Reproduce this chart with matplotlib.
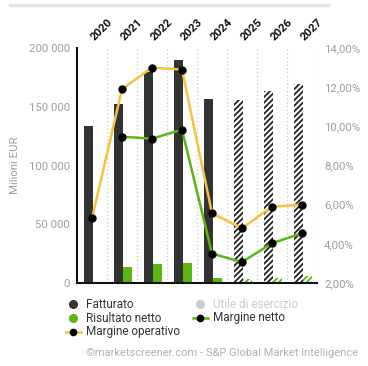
import matplotlib
matplotlib.use("Agg")
import matplotlib.pyplot as plt
from matplotlib.lines import Line2D
import numpy as np

plt.rcParams['font.family'] = ['Roboto', 'DejaVu Sans']
plt.rcParams['hatch.linewidth'] = 1.3

years = ['2020', '2021', '2022', '2023', '2024', '2025', '2026', '2027']
fatturato = [133600, 152000, 179500, 190000, 156600, 155700, 163000, 169000]
risultato_netto = [0, 13600, 16000, 17000, 4500, 3000, 4500, 6000]
margine_operativo = [5.3, 11.9, 13.0, 12.9, 5.56, 4.8, 5.9, 6.0]
margine_netto = [np.nan, 9.47, 9.37, 9.83, 3.5, 3.07, 4.03, 4.54]
forecast = [False, False, False, False, False, True, True, True]

DARK = '#333333'
GREEN = '#5db512'
YELLOW = '#f5c13e'
GRAY = '#9e9e9e'

W, H = 368, 366
fig = plt.figure(figsize=(W / 100, H / 100), dpi=100)
ax = fig.add_axes([77 / W, 1 - 283 / H, 240 / W, 235 / H])
ax2 = ax.twinx()

x = np.arange(len(years))
bw = 0.3
for i in x:
    if forecast[i]:
        ax.bar(i - 0.12, fatturato[i], bw, facecolor='white', edgecolor='#222222',
               hatch='//////', linewidth=0, zorder=2)
        ax.bar(i + 0.17, risultato_netto[i], bw, facecolor='white', edgecolor=GREEN,
               hatch='//////', linewidth=0, zorder=2)
    else:
        ax.bar(i - 0.12, fatturato[i], bw, color=DARK, linewidth=0, zorder=2)
        ax.bar(i + 0.17, risultato_netto[i], bw, color=GREEN, linewidth=0, zorder=2)

for b in np.arange(0.5, len(years), 1.0):
    ax.axvline(b, color='#c8c8c8', lw=0.9, ls=(0, (1, 2)), zorder=1)

ax.set_xlim(-0.5, len(years) - 0.5)
ax.set_ylim(0, 200000)
ax.set_yticks(range(0, 200001, 50000))
ax.set_yticklabels(['0' if v == 0 else f'{v // 1000} 000' for v in range(0, 200001, 50000)])
ax.set_xticks([])
ax.tick_params(axis='y', length=0, pad=5, labelsize=8.2, labelcolor=GRAY)
ax.set_ylabel('Milioni EUR', color=GRAY, fontsize=8.2, labelpad=6)
for s in ['top', 'right']:
    ax.spines[s].set_visible(False)
ax.spines['left'].set_linewidth(1.5)
ax.spines['bottom'].set_linewidth(1.5)
ax.spines['left'].set_color('#111111')
ax.spines['bottom'].set_color('#111111')

ax2.plot(x, margine_operativo, color=YELLOW, lw=1.8, zorder=3)
ax2.plot(x, margine_operativo, 'o', color='black', ms=5, zorder=4)
ax2.plot(x, margine_netto, color=GREEN, lw=1.8, zorder=3)
ax2.plot(x, margine_netto, 'o', color='black', ms=5, zorder=4)
ax2.set_ylim(2, 14)
ax2.set_yticks(range(2, 15, 2))
ax2.set_yticklabels([f'{v},00%' for v in range(2, 15, 2)])
ax2.tick_params(axis='y', length=0, pad=5, labelsize=8.2, labelcolor=GRAY)
for s in ax2.spines.values():
    s.set_visible(False)

for i, yr in enumerate(years):
    ax.annotate(yr, xy=(i, 1), xycoords=('data', 'axes fraction'),
                xytext=(2, 5), textcoords='offset points', rotation=45,
                ha='left', va='baseline', rotation_mode='anchor',
                fontsize=8.2, fontweight='bold', color='#111111')

# top border line
fig.add_artist(Line2D([10 / W, 328 / W], [1 - 5 / H, 1 - 5 / H], color='#e4e4e4', lw=2.5))

# legend
def leg_item(px, py, label, color, line=None, tcolor='#333333'):
    yy = 1 - py / H
    if line:
        fig.add_artist(Line2D([(px - 7) / W, (px + 8) / W], [yy, yy], color=line, lw=1.8))
    fig.add_artist(Line2D([px / W], [yy], marker='o', color=color, ms=5.5 if not line else 4.5, lw=0))
    fig.text((px + 13) / W, yy, label, fontsize=8.5, color=tcolor, va='center', ha='left')

leg_item(73, 304, 'Fatturato', DARK)
leg_item(73, 318, 'Risultato netto', GREEN)
leg_item(73, 332, 'Margine operativo', 'black', line=YELLOW)
leg_item(200, 304, 'Utile di esercizio', '#cccccc', tcolor='#cccccc')
leg_item(200, 318, 'Margine netto', 'black', line=GREEN)

fig.text(222 / W, 1 - 353 / H, '©marketscreener.com - S&P Global Market Intelligence',
         fontsize=8, color='#b0b0b0', ha='center', va='center')

fig.savefig('out.png', dpi=100)
